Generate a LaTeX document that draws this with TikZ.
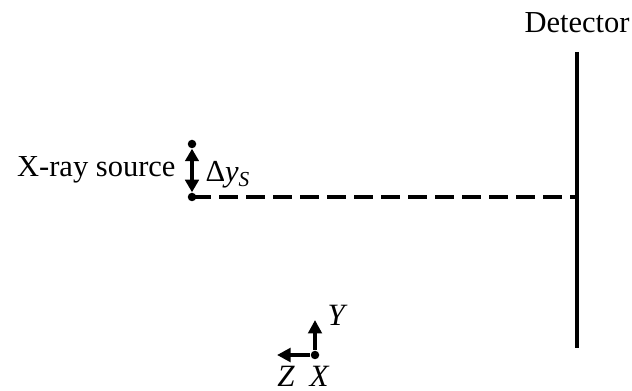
\documentclass[tikz,border=0pt]{standalone}
\usepackage{fontspec}
\setmainfont{Liberation Serif}
\usetikzlibrary{arrows.meta, positioning}
\tikzset{
  % punti (sorgente, origine degli assi)
  dot/.style={circle, fill=black, minimum size=3.4pt, inner sep=0pt},
  % rivelatore e raggio
  detline/.style={line width=1.4pt},
  ray/.style={line width=1.3pt, dash pattern=on 7.4pt off 3.4pt},
  % frecce (spostamento, assi)
  axarrow/.style={-{Triangle[length=5.4pt, width=5.4pt]}, line width=1.4pt},
  shiftarrow/.style={{Triangle[length=5pt, width=5.4pt]}-{Triangle[length=5pt, width=5.4pt]}, line width=1.4pt},
  % etichette
  lbl/.style={font=\fontsize{12.2}{14}\selectfont, inner sep=0pt},
  axlbl/.style={font=\fontsize{12.4}{14}\selectfont\itshape, inner sep=0pt},
}
\begin{document}
\begin{tikzpicture}[x=0.4pt, y=-0.4pt]
  \useasboundingbox (0,0) rectangle (632,391);
  % rivelatore
  \coordinate (dettop) at (577,52);
  \coordinate (detbot) at (577,348);
  \coordinate (dethit) at (577,197);
  \draw[detline] (dettop) -- (detbot);
  \node[lbl, anchor=base] (detlbl) at (577,33) {Detector};
  % sorgente e spostamento
  \node[dot] (src) at (192,197) {};
  \node[dot] (srctop) at (192,144) {};
  \draw[shiftarrow] (srctop) -- (src);
  \draw[ray] (src.center) -- (dethit);
  \node[lbl, anchor=base east] (srclbl) at (176,177) {X-ray source};
  \node[lbl, anchor=base west] (shiftlbl) at (205,182) {Δ\textit{y}\textsubscript{\textit{S}}};
  % assi
  \node[dot] (orig) at (315,355) {};
  \coordinate (ytip) at (315,320);
  \coordinate (ztip) at (277,355);
  \draw[axarrow] (orig) -- (ytip);
  \draw[axarrow] (orig) -- (ztip);
  \node[axlbl, anchor=base west] (ylbl) at (327,326) {Y};
  \node[axlbl, anchor=base] (zlbl) at (286,386) {Z};
  \node[axlbl, anchor=base] (xlbl) at (319,386) {X};
\end{tikzpicture}
\end{document}
